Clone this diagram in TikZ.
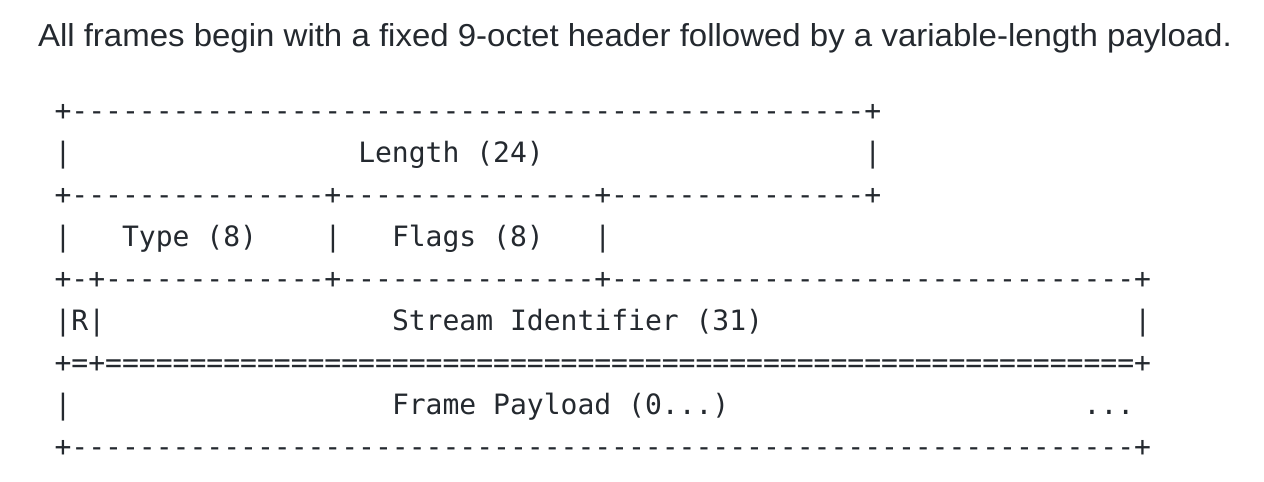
\documentclass[tikz,border=0pt]{standalone}
\usepackage{fontspec}
\usepackage{graphicx}
\setmonofont{DejaVu Sans Mono}
\newfontfamily\titlefont{Liberation Sans}
\definecolor{ink}{HTML}{24292F}
\ExplSyntaxOn
\cs_new:Npn \myrep #1#2 { \prg_replicate:nn {#1} {#2} }
\ExplSyntaxOff
\newcommand\colx[1]{54.6+#1*16.87}
\tikzset{
  mono/.style={inner sep=0pt, outer sep=0pt, anchor=base west, text=ink,
    font=\ttfamily\fontsize{28.02}{42}\selectfont},
  titletext/.style={inner sep=0pt, outer sep=0pt, anchor=base west, text=ink}
}
\begin{document}
\begin{tikzpicture}[x=1pt,y=-1pt]
\useasboundingbox[fill=white] (0,0) rectangle (1264,482);
\node[titletext] (title) at (38,46) {\resizebox{1194pt}{23pt}{\titlefont\fontsize{30}{36}\selectfont All frames begin with a fixed 9-octet header followed by a variable-length payload.}};
% row 0
\node[mono] (r0) at ({\colx{0}},120) {+\myrep{47}{-}+};
% row 1
\node[mono] (r1a) at ({\colx{0}},162) {|};
\node[mono] (len) at ({\colx{18}},162) {Length (24)};
\node[mono] (r1b) at ({\colx{48}},162) {|};
% row 2
\node[mono] (r2) at ({\colx{0}},204) {+\myrep{15}{-}+\myrep{15}{-}+\myrep{15}{-}+};
% row 3
\node[mono] (r3a) at ({\colx{0}},246) {|};
\node[mono] (type) at ({\colx{4}},246) {Type (8)};
\node[mono] (r3b) at ({\colx{16}},246) {|};
\node[mono] (flags) at ({\colx{20}},246) {Flags (8)};
\node[mono] (r3c) at ({\colx{32}},246) {|};
% row 4
\node[mono] (r4) at ({\colx{0}},288) {+-+\myrep{13}{-}+\myrep{15}{-}+\myrep{31}{-}+};
% row 5
\node[mono] (r5a) at ({\colx{0}},330) {|R|};
\node[mono] (sid) at ({\colx{20}},330) {Stream Identifier (31)};
\node[mono] (r5b) at ({\colx{64}},330) {|};
% row 6
\node[mono] (r6) at ({\colx{0}},372) {+=+\myrep{61}{=}+};
% row 7
\node[mono] (r7a) at ({\colx{0}},414) {|};
\node[mono] (pay) at ({\colx{20}},414) {Frame Payload (0...)};
\node[mono] (r7b) at ({\colx{61}},414) {...};
% row 8
\node[mono] (r8) at ({\colx{0}},456) {+\myrep{63}{-}+};
\end{tikzpicture}
\end{document}
